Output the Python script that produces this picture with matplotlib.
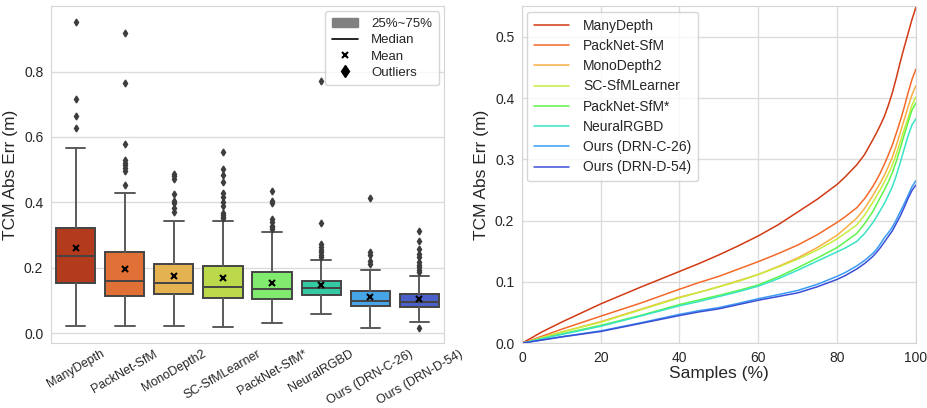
import matplotlib
matplotlib.use("Agg")
import matplotlib.pyplot as plt
import seaborn as sns
from matplotlib.lines import Line2D
from matplotlib.patches import Patch

sns.set_style("whitegrid")
plt.rcParams['font.family'] = ['Liberation Sans', 'DejaVu Sans']

methods = ["ManyDepth", "PackNet-SfM", "MonoDepth2", "SC-SfMLearner",
           "PackNet-SfM*", "NeuralRGBD", "Ours (DRN-C-26)", "Ours (DRN-D-54)"]

# box statistics
q1 = [0.154, 0.115, 0.121, 0.109, 0.105, 0.116, 0.084, 0.080]
med = [0.235, 0.160, 0.155, 0.141, 0.135, 0.139, 0.099, 0.096]
q3 = [0.323, 0.249, 0.211, 0.205, 0.186, 0.159, 0.130, 0.119]
mean = [0.260, 0.197, 0.175, 0.169, 0.155, 0.147, 0.110, 0.105]
whislo = [0.021, 0.023, 0.023, 0.018, 0.030, 0.060, 0.015, 0.036]
whishi = [0.566, 0.429, 0.342, 0.342, 0.310, 0.224, 0.194, 0.174]
fliers = [
    [0.627, 0.663, 0.715, 0.951],
    [0.453, 0.497, 0.505, 0.513, 0.522, 0.530, 0.579, 0.765, 0.918],
    [0.370, 0.383, 0.397, 0.405, 0.426, 0.472, 0.480, 0.487],
    [0.352, 0.357, 0.362, 0.368, 0.390, 0.400, 0.418, 0.428, 0.462, 0.485, 0.502, 0.555],
    [0.319, 0.325, 0.329, 0.340, 0.350, 0.397, 0.405, 0.436],
    [0.232, 0.240, 0.248, 0.255, 0.263, 0.273, 0.337, 0.770],
    [0.212, 0.220, 0.240, 0.248, 0.414],
    [0.015, 0.187, 0.194, 0.202, 0.209, 0.219, 0.232, 0.243, 0.258, 0.283, 0.314],
]

box_colors = ["#b33a1d", "#e07035", "#e4b251", "#bcd94b",
              "#80eb6e", "#33c9a3", "#46a5e6", "#4a5fc8"]
line_colors = ["#d13a15", "#f4692a", "#fbae42", "#c8ec3e",
               "#5ef54a", "#38e3c4", "#3a9cf5", "#3a4fd6"]

# sorted error curves
samples = [0, 2, 5, 10, 20, 30, 40, 45, 50, 55, 60, 65, 70, 75, 80, 82, 85, 87,
           89, 90, 91, 92, 93, 94, 95, 96, 97, 98, 99, 100]
curves = [
    [0, 0.007, 0.018, 0.034, 0.064, 0.091, 0.117, 0.130, 0.144, 0.159, 0.175, 0.193, 0.214, 0.235, 0.259,
     0.271, 0.291, 0.308, 0.331, 0.343, 0.356, 0.370, 0.388, 0.408, 0.432, 0.458, 0.482, 0.505, 0.528, 0.548],
    [0, 0.004, 0.011, 0.0225, 0.044, 0.065, 0.088, 0.099, 0.109, 0.121, 0.133, 0.146, 0.160, 0.177, 0.197,
     0.206, 0.221, 0.236, 0.255, 0.266, 0.278, 0.292, 0.307, 0.323, 0.342, 0.362, 0.384, 0.408, 0.430, 0.447],
    [0, 0.003, 0.009, 0.018, 0.035, 0.055, 0.075, 0.083, 0.092, 0.102, 0.112, 0.125, 0.139, 0.156, 0.176,
     0.187, 0.204, 0.220, 0.240, 0.251, 0.262, 0.274, 0.288, 0.303, 0.322, 0.343, 0.364, 0.385, 0.405, 0.420],
    [0, 0.003, 0.009, 0.018, 0.034, 0.054, 0.074, 0.083, 0.092, 0.101, 0.112, 0.124, 0.137, 0.152, 0.170,
     0.179, 0.193, 0.209, 0.229, 0.240, 0.251, 0.263, 0.276, 0.290, 0.308, 0.328, 0.348, 0.367, 0.388, 0.402],
    [0, 0.0025, 0.0075, 0.015, 0.029, 0.045, 0.063, 0.0705, 0.078, 0.086, 0.095, 0.108, 0.123, 0.139, 0.156,
     0.165, 0.179, 0.195, 0.214, 0.226, 0.238, 0.250, 0.263, 0.278, 0.296, 0.317, 0.339, 0.360, 0.380, 0.392],
    [0, 0.0025, 0.007, 0.014, 0.0275, 0.044, 0.061, 0.068, 0.076, 0.084, 0.093, 0.105, 0.119, 0.134, 0.149,
     0.155, 0.166, 0.179, 0.196, 0.206, 0.217, 0.228, 0.241, 0.255, 0.273, 0.294, 0.316, 0.338, 0.356, 0.366],
    [0, 0.002, 0.005, 0.0105, 0.020, 0.033, 0.047, 0.053, 0.058, 0.065, 0.0725, 0.079, 0.086, 0.096, 0.109,
     0.115, 0.126, 0.135, 0.146, 0.153, 0.162, 0.172, 0.180, 0.189, 0.201, 0.214, 0.227, 0.241, 0.255, 0.265],
    [0, 0.002, 0.005, 0.0100, 0.019, 0.032, 0.045, 0.051, 0.056, 0.063, 0.070, 0.076, 0.082, 0.092, 0.104,
     0.110, 0.121, 0.130, 0.141, 0.148, 0.156, 0.165, 0.174, 0.183, 0.195, 0.207, 0.221, 0.236, 0.249, 0.258],
]

fig = plt.figure(figsize=(9.27, 4.08), dpi=100)
ax1 = fig.add_axes([0.055, 0.159, 0.424, 0.826])
ax2 = fig.add_axes([0.563, 0.159, 0.425, 0.826])

for ax in (ax1, ax2):
    for s in ax.spines.values():
        s.set_color("#d5d5d5")
    ax.grid(color="#dcdcdc", linewidth=1.0)

# ---------- Left: box plot ----------
stats = []
for i, m in enumerate(methods):
    stats.append(dict(label=m, q1=q1[i], med=med[i], q3=q3[i], mean=mean[i],
                      whislo=whislo[i], whishi=whishi[i], fliers=fliers[i]))
edge = "#444444"
bp = ax1.bxp(stats, positions=range(len(methods)), widths=0.8, patch_artist=True,
             showmeans=True, showfliers=True,
             boxprops=dict(edgecolor=edge, linewidth=1.4),
             medianprops=dict(color=edge, linewidth=1.4),
             whiskerprops=dict(color="#5a5a5a", linewidth=1.4),
             capprops=dict(color="#5a5a5a", linewidth=1.4),
             meanprops=dict(marker="x", markeredgecolor="black", markerfacecolor="black",
                            markersize=4.5, markeredgewidth=1.5),
             flierprops=dict(marker="d", markerfacecolor="#3d3d3d", markeredgecolor="#3d3d3d",
                             markersize=3.5))
for patch, c in zip(bp["boxes"], box_colors):
    patch.set_facecolor(c)
ax1.set_xlim(-0.5, len(methods) - 0.5)
ax1.set_ylim(-0.03, 1.0)
ax1.set_yticks([0.0, 0.2, 0.4, 0.6, 0.8])
ax1.set_yticklabels(["0.0", "0.2", "0.4", "0.6", "0.8"])
ax1.set_xticks(range(len(methods)))
ax1.set_xticklabels(methods, rotation=30, fontsize=9)
ax1.xaxis.grid(False)
ax1.tick_params(axis="y", labelsize=10, pad=2)
ax1.tick_params(axis="x", pad=0)
ax1.set_ylabel("TCM Abs Err (m)", fontsize=12.5, labelpad=4)

handles = [Patch(facecolor="#808080", edgecolor="#808080"),
           Line2D([], [], color="black", linewidth=1.2),
           Line2D([], [], linestyle="none", marker="x", color="black", markersize=5, markeredgewidth=1.5),
           Line2D([], [], linestyle="none", marker="d", color="black", markersize=6)]
ax1.legend(handles, ["25%~75%", "Median", "Mean", "Outliers"], loc="upper right",
           fontsize=9.5, frameon=True, borderpad=0.5, labelspacing=0.3,
           handlelength=2.0, handletextpad=1.0, borderaxespad=0.4)

# ---------- Right: curves ----------
for m, c, ys in zip(methods, line_colors, curves):
    ax2.plot(samples, ys, color=c, linewidth=1.1, label=m, solid_joinstyle="round")
ax2.set_xlim(0, 100)
ax2.set_ylim(0, 0.55)
ax2.set_xticks([0, 20, 40, 60, 80, 100])
ax2.set_yticks([0.0, 0.1, 0.2, 0.3, 0.4, 0.5])
ax2.set_yticklabels(["0.0", "0.1", "0.2", "0.3", "0.4", "0.5"])
ax2.tick_params(labelsize=10, pad=2)
ax2.set_xlabel("Samples (%)", fontsize=12.5, labelpad=1)
ax2.set_ylabel("TCM Abs Err (m)", fontsize=12.5, labelpad=4)
ax2.legend(loc="upper left", fontsize=10, frameon=True, borderpad=0.5,
           labelspacing=0.45, handlelength=2.5, handletextpad=1.0, borderaxespad=0.4)

fig.savefig("out.png", dpi=100)
